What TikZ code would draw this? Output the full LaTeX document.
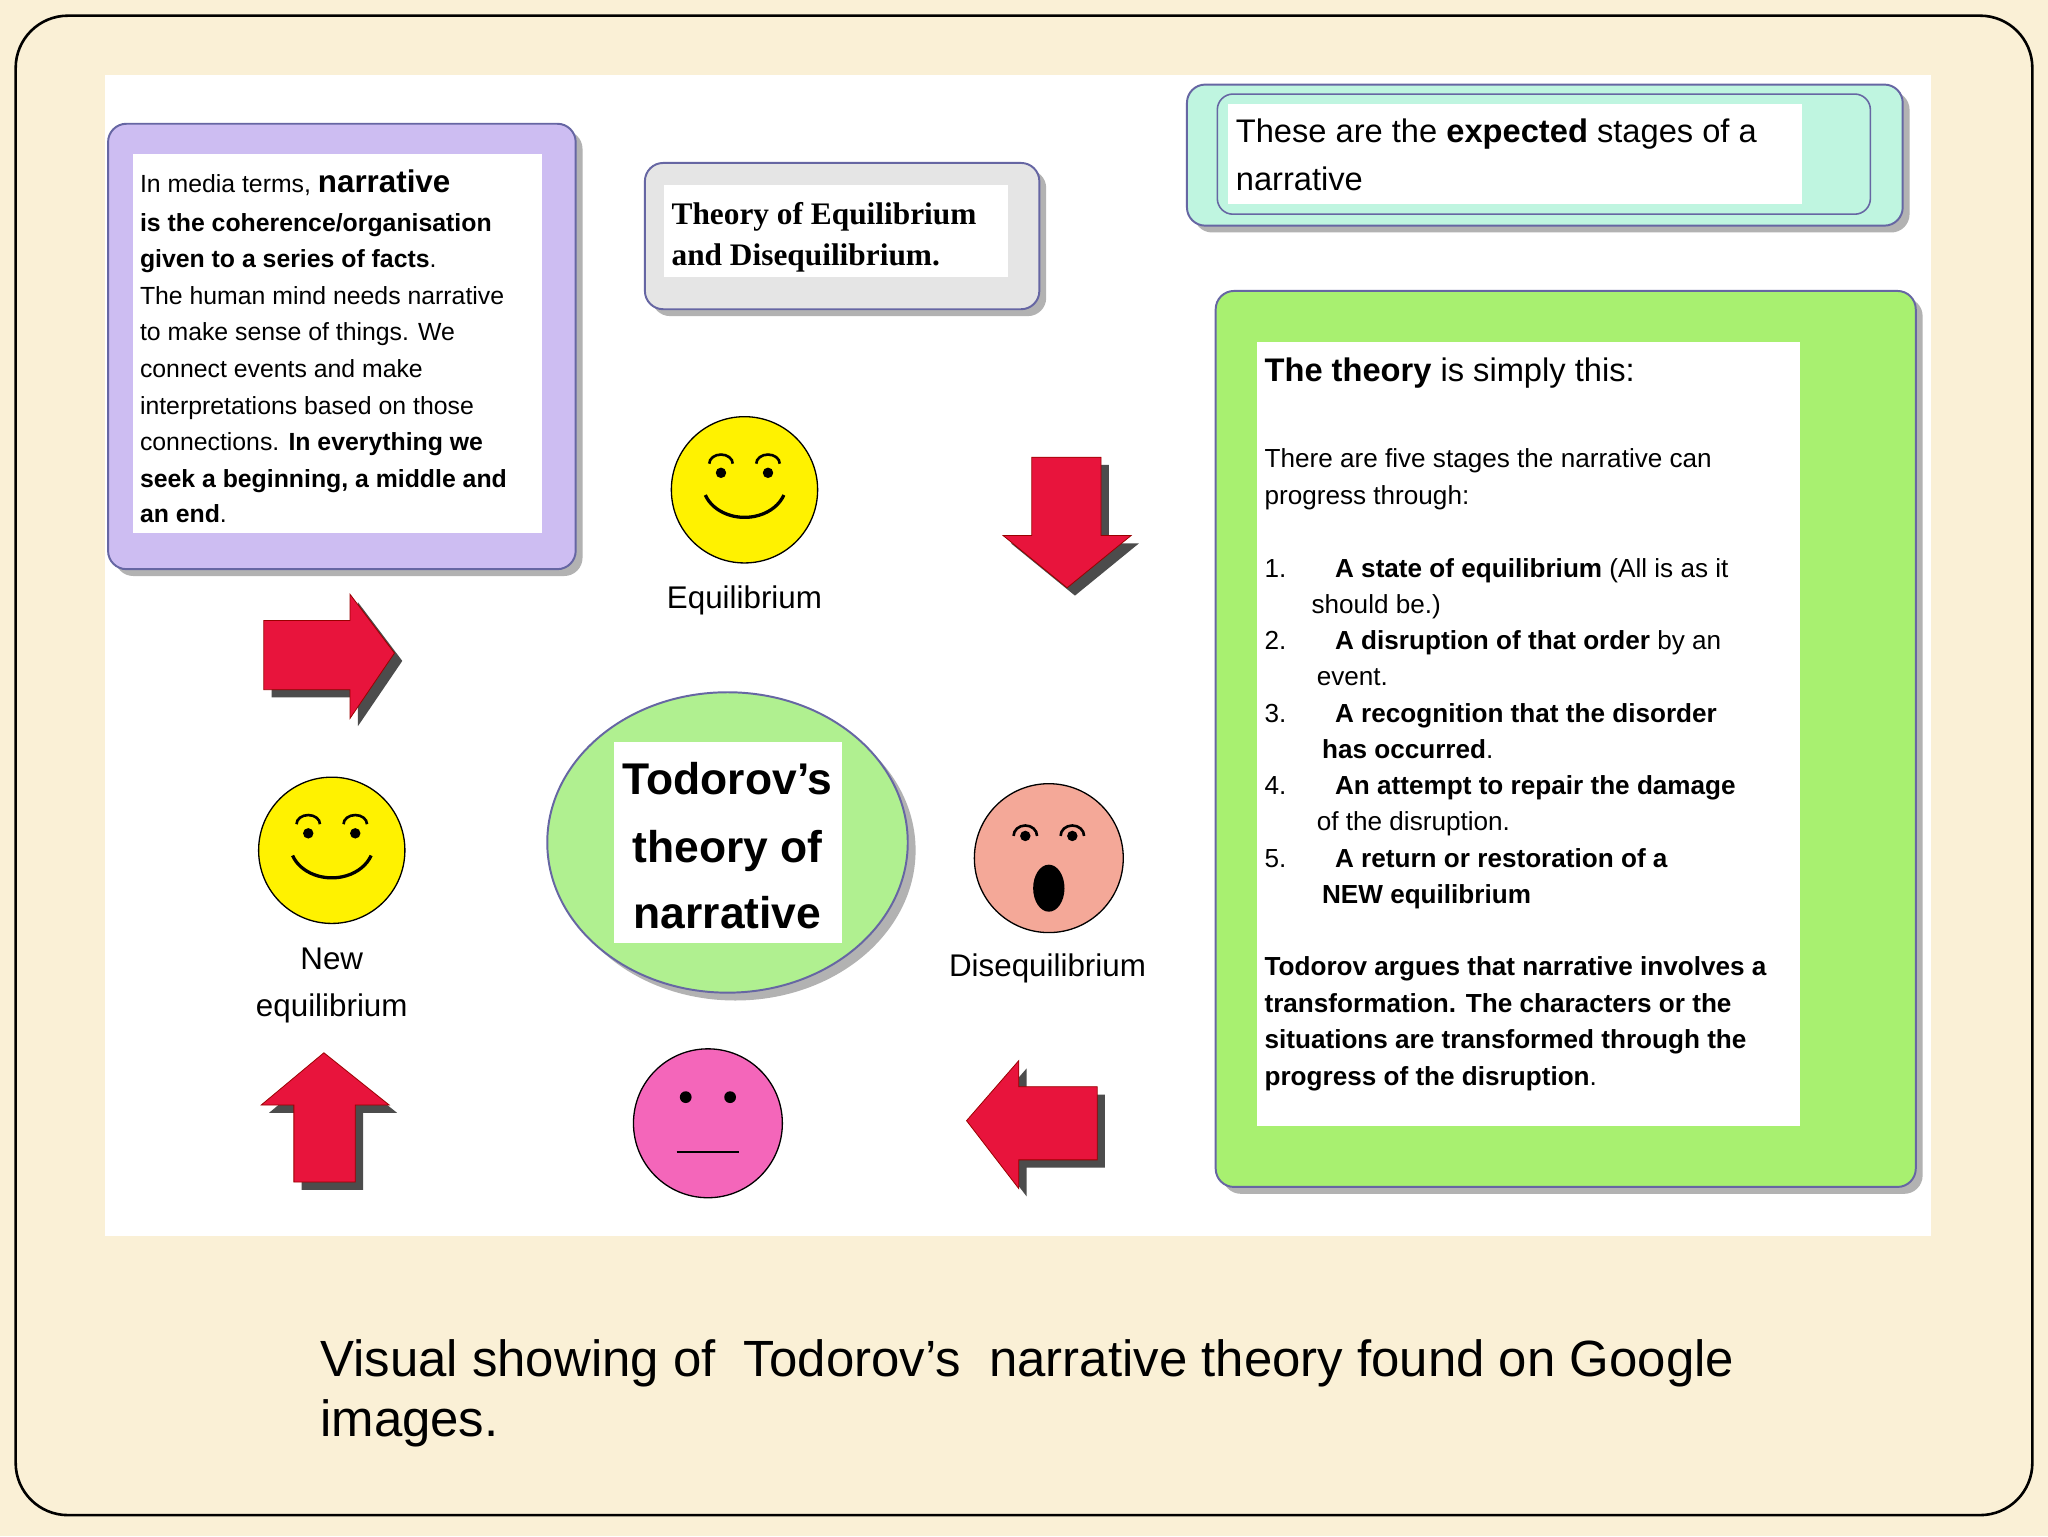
\documentclass[tikz,border=0pt]{standalone}
\usepackage{fontspec}
\usetikzlibrary{shapes.geometric}
\setmainfont{Liberation Sans}
\newfontfamily\serifb{Liberation Serif}
\definecolor{lav}{HTML}{CDBDF2}
\definecolor{crim}{HTML}{E8143C}
\definecolor{salm}{HTML}{F4A898}
\definecolor{mint}{HTML}{BFF5E0}
\definecolor{lgreen}{HTML}{A8F070}
\definecolor{bggr}{HTML}{B0F090}
\definecolor{beige}{HTML}{FAF0D6}
\begin{document}
\begin{tikzpicture}[x=1pt,y=-1pt,
 ln/.style={anchor=base west,inner sep=0pt,font=\fontsize{19}{22}\selectfont},
 gl/.style={anchor=base west,inner sep=0pt,font=\fontsize{20}{24}\selectfont},
 lab/.style={anchor=base,inner sep=0pt,font=\fontsize{24}{28}\selectfont},
 panel/.style={draw=black!60!blue!60,line width=1.5pt,rounded corners=14pt},
 redarrow/.style={fill=crim,draw=red!60!black,line width=0.6pt},
 face/.style={draw=black,line width=1pt}]
\useasboundingbox (0,0) rectangle (1568,1176);
\fill[beige] (0,0) rectangle (1568,1176);
\draw[line width=2pt,rounded corners=40pt,fill=beige] (12,12) rectangle (1556,1160);
\node[fill=white,inner sep=0pt,minimum width=1398,minimum height=889,anchor=north west] (wp) at (80,57) {};
% purple box
\fill[gray!60,rounded corners=14pt] (88,100) rectangle (446,441);
\node[panel,fill=lav,anchor=north west,minimum width=358,minimum height=341] (pb) at (82,94) {};
\fill[white] (102,118) rectangle (415,408);
\node[ln] (p1) at (107,147) {In media terms, \textbf{\fontsize{24}{26}\selectfont narrative}};
\node[ln] (p2) at (107,177) {\textbf{is the coherence/organisation}};
\node[ln] at (107,205) {\textbf{given to a series of facts}.};
\node[ln] at (107,233) {The human mind needs narrative};
\node[ln] at (107,261) {to make sense of things. We};
\node[ln] at (107,289) {connect events and make};
\node[ln] at (107,317) {interpretations based on those};
\node[ln] at (107,345) {connections. \textbf{In everything we}};
\node[ln] at (107,373) {\textbf{seek a beginning, a middle and}};
\node[ln] at (107,400) {\textbf{an end}.};
% theory of eq box
\fill[gray!60,rounded corners=14pt] (499,130) rectangle (801,242);
\node[panel,fill=gray!20,anchor=north west,minimum width=302,minimum height=112] (tb) at (493,124) {};
\fill[white] (508,142) rectangle (772,212);
\node[anchor=base west,inner sep=0pt,font=\serifb\bfseries\fontsize{24}{28}\selectfont] (t1) at (514,172) {Theory of Equilibrium};
\node[anchor=base west,inner sep=0pt,font=\serifb\bfseries\fontsize{24}{28}\selectfont] (t2) at (514,203) {and Disequilibrium.};
% top right box
\fill[gray!60,rounded corners=14pt] (914,70) rectangle (1462,178);
\node[panel,fill=mint,anchor=north west,minimum width=548,minimum height=108] (eb) at (908,64) {};
\draw[black!60!blue!60,line width=1.2pt,rounded corners=12pt] (932,72) rectangle (1432,164);
\fill[white] (940,80) rectangle (1380,156);
\node[anchor=base west,inner sep=0pt,font=\fontsize{25}{30}\selectfont] (e1) at (946,109) {These are the \textbf{expected} stages of a};
\node[anchor=base west,inner sep=0pt,font=\fontsize{25}{30}\selectfont] (e2) at (946,146) {narrative};
% green box
\fill[gray!60,rounded corners=14pt] (936,228) rectangle (1472,914);
\node[panel,fill=lgreen,anchor=north west,minimum width=536,minimum height=686] (gb) at (930,222) {};
\fill[white] (962,262) rectangle (1378,862);
\node[anchor=base west,inner sep=0pt,font=\fontsize{25}{30}\selectfont] (g0) at (968,292) {\textbf{The theory} is simply this:};
\node[gl] at (968,358) {There are five stages the narrative can};
\node[gl] at (968,386) {progress through:};
\node[gl] at (968,442) {1.};\node[gl] at (1022,442) {\textbf{A state of equilibrium} (All is as it};
\node[gl] at (1004,470) {should be.)};
\node[gl] at (968,497) {2.};\node[gl] at (1022,497) {\textbf{A disruption of that order} by an};
\node[gl] at (1008,525) {event.};
\node[gl] at (968,553) {3.};\node[gl] at (1022,553) {\textbf{A recognition that the disorder}};
\node[gl] at (1012,581) {\textbf{has occurred}.};
\node[gl] at (968,608) {4.};\node[gl] at (1022,608) {\textbf{An attempt to repair the damage}};
\node[gl] at (1008,636) {of the disruption.};
\node[gl] at (968,664) {5.};\node[gl] at (1022,664) {\textbf{A return or restoration of a}};
\node[gl] at (1012,692) {\textbf{NEW equilibrium}};
\node[gl] at (968,747) {\textbf{Todorov argues that narrative involves a}};
\node[gl] at (968,775) {\textbf{transformation. The characters or the}};
\node[gl] at (968,803) {\textbf{situations are transformed through the}};
\node[gl] at (968,831) {\textbf{progress of the disruption}.};
% center ellipse
\fill[gray!60] (563,651) ellipse (138 and 115);
\node[draw=black!60!blue!60,line width=1.5pt,fill=bggr,ellipse,minimum width=276,minimum height=230,inner sep=0pt] (ce) at (557,645) {};
\fill[white] (470,568) rectangle (645,722);
\node[anchor=base,inner sep=0pt,font=\bfseries\fontsize{34}{40}\selectfont] (c1) at (557,608) {Todorov's};
\node[anchor=base,inner sep=0pt,font=\bfseries\fontsize{34}{40}\selectfont] (c2) at (557,660) {theory of};
\node[anchor=base,inner sep=0pt,font=\bfseries\fontsize{34}{40}\selectfont] (c3) at (557,711) {narrative};
% faces
\foreach \cx/\cy/\col/\nm in {570/375/yellow/f1,254/651/yellow/f2}{
 \draw[face,fill=\col] (\cx,\cy) circle (56);
 \draw[line width=2pt] (\cx-27,\cy-20) arc (180:360:9 and 7);
 \draw[line width=2pt] (\cx+9,\cy-20) arc (180:360:9 and 7);
 \fill (\cx-18,\cy-13) circle (4); \fill (\cx+18,\cy-13) circle (4);
 \draw[line width=2.5pt] (\cx-30,\cy+4) arc (160:20:32 and 26);
}
\draw[face,fill=salm] (803,657) circle (57);
\draw[line width=2pt] (776,640) arc (180:360:9 and 8);\draw[line width=2pt] (812,640) arc (180:360:9 and 8);
\fill (785,640) circle (4);\fill (821,640) circle (4);
\fill (803,680) ellipse (12 and 18);
\draw[face,fill=magenta!60] (542,860) circle (57);
\fill (525,840) circle (4.5);\fill (559,840) circle (4.5);
\draw[line width=2pt] (518,882) -- (566,882);
\node[lab] (l1) at (570,466) {Equilibrium};
\node[lab] (l2) at (254,742) {New};
\node[lab] (l3) at (254,778) {equilibrium};
\node[lab] (l4) at (802,748) {Disequilibrium};
% arrows
\fill[black!70] (796,356)--(849,356)--(849,416)--(872,416)--(823,456)--(774,416)--(796,416)--cycle;
\draw[redarrow] (790,350)--(843,350)--(843,410)--(866,410)--(817,450)--(768,410)--(790,410)--cycle;
\fill[black!70] (208,481)--(274,481)--(274,461)--(308,506)--(274,556)--(274,534)--(208,534)--cycle;
\draw[redarrow] (202,475)--(268,475)--(268,455)--(302,500)--(268,550)--(268,528)--(202,528)--cycle;
\fill[black!70] (254,812)--(304,852)--(278,852)--(278,911)--(231,911)--(231,852)--(206,852)--cycle;
\draw[redarrow] (248,806)--(298,846)--(272,846)--(272,905)--(225,905)--(225,846)--(200,846)--cycle;
\fill[black!70] (746,864)--(786,818)--(786,838)--(846,838)--(846,894)--(786,894)--(786,916)--cycle;
\draw[redarrow] (740,858)--(780,812)--(780,832)--(840,832)--(840,888)--(780,888)--(780,910)--cycle;
% caption
\node[anchor=base west,inner sep=0pt,font=\fontsize{39}{46}\selectfont] (cap1) at (245,1054) {Visual showing of\ \ Todorov’s\ \ narrative theory found on Google};
\node[anchor=base west,inner sep=0pt,font=\fontsize{39}{46}\selectfont] (cap2) at (245,1100) {images.};
\end{tikzpicture}
\end{document}
